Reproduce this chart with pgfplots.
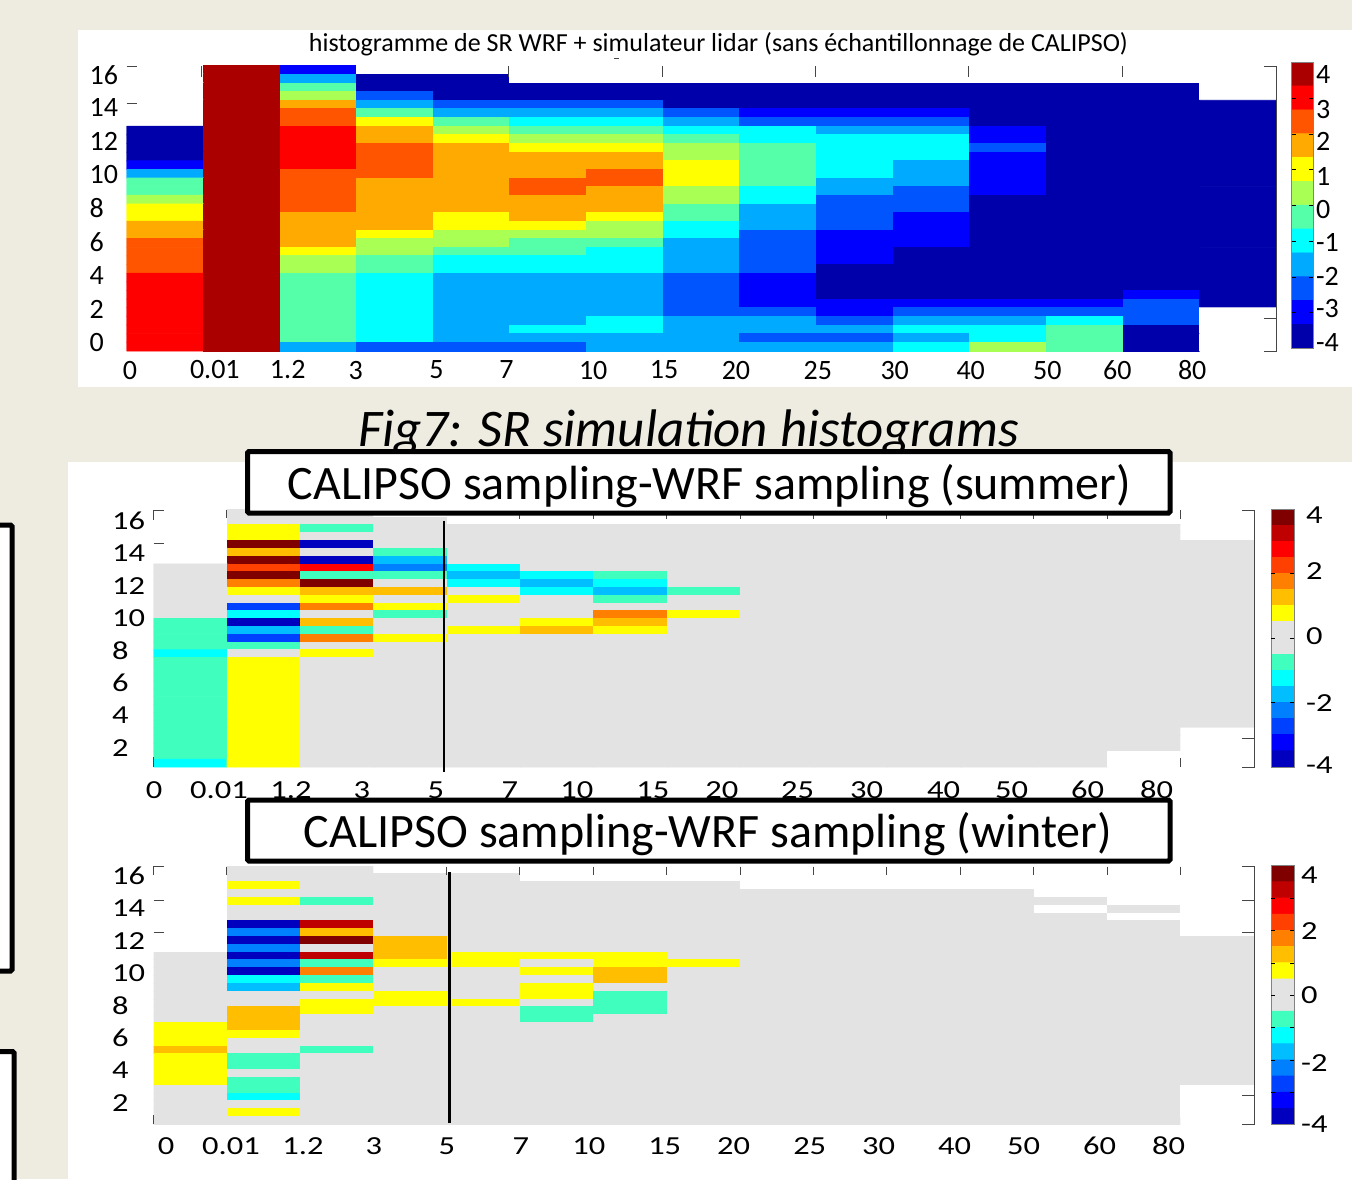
\documentclass[border=0pt]{standalone}
\usepackage{fontspec}
\setmainfont{Carlito}
\newfontfamily\widefont[FakeStretch=1.25]{Carlito}
\usepackage{pgfplots}
\usepackage{pgfplotstable}
\pgfplotsset{compat=1.18}

\definecolor{beige}{RGB}{238,236,225}
\definecolor{framegray}{RGB}{70,70,70}
\definecolor{bargray}{RGB}{130,130,130}

% index 0 is white (no data), then the colorbar from bottom to top
\pgfplotsset{
  colormap={srmap}{rgb255=(255,255,255) rgb255=(0,0,170) rgb255=(0,0,255) rgb255=(0,85,255)
    rgb255=(0,170,255) rgb255=(0,255,255) rgb255=(85,255,170) rgb255=(170,255,85)
    rgb255=(255,255,0) rgb255=(255,170,0) rgb255=(255,85,0) rgb255=(255,0,0) rgb255=(170,0,0)},
  colormap={diffmap}{rgb255=(255,255,255) rgb255=(0,0,190) rgb255=(0,0,255) rgb255=(0,64,255)
    rgb255=(0,128,255) rgb255=(0,190,255) rgb255=(0,255,255) rgb255=(64,255,190)
    rgb255=(227,227,227) rgb255=(255,255,0) rgb255=(255,190,0) rgb255=(255,128,0)
    rgb255=(255,64,0) rgb255=(255,0,0) rgb255=(190,0,0) rgb255=(128,0,0)},
  heat/.style={
    scale only axis, anchor=south west, y dir=reverse,
    xmin=-0.5, xmax=14.5, ymin=-0.5, ymax=32.5,
    axis line style={draw=none}, major tick length=0pt,
    colormap access=direct,
    xticklabels={0,0.01,1.2,3,5,7,10,15,20,25,30,40,50,60,80},
    y tick label style={anchor=west, inner sep=0pt},
    x tick label style={anchor=center, inner sep=0pt},
  },
  bar/.style={
    scale only axis, anchor=south west, y dir=reverse,
    xmin=-0.5, xmax=1.5, xtick=\empty,
    axis line style={draw=bargray, line width=1pt}, major tick length=0pt,
    colormap access=direct,
    yticklabel pos=right,
    y tick label style={anchor=west, inner sep=0pt},
    extra y tick labels={},
    extra y tick style={major tick length=4pt, tick style={black, line width=0.6pt}},
    axis on top,
  },
  % cells are stroked in their own colour so no seams show between them
  cells/.style={matrix plot*, mesh/cols=#1, point meta=explicit,
    shader=faceted, draw=mapped color, faceted color=mapped color, line width=0.9pt},
}

% rows run from the top of the axis down, 15 cells each
\pgfplotstableread[row sep=crcr]{c\\
0\\12\\2\\0\\0\\0\\0\\0\\0\\0\\0\\0\\0\\0\\0\\
0\\12\\4\\1\\1\\0\\0\\0\\0\\0\\0\\0\\0\\0\\0\\
0\\12\\6\\1\\1\\1\\1\\1\\1\\1\\1\\1\\1\\1\\0\\
0\\12\\7\\3\\1\\1\\1\\1\\1\\1\\1\\1\\1\\1\\0\\
0\\12\\9\\4\\3\\3\\3\\1\\1\\1\\1\\1\\1\\1\\1\\
0\\12\\10\\6\\4\\4\\4\\3\\2\\2\\2\\1\\1\\1\\1\\
0\\12\\10\\8\\6\\5\\5\\4\\3\\3\\3\\1\\1\\1\\1\\
1\\12\\11\\9\\7\\6\\6\\5\\5\\4\\4\\2\\1\\1\\1\\
1\\12\\11\\9\\8\\7\\7\\6\\5\\5\\5\\2\\1\\1\\1\\
1\\12\\11\\10\\9\\8\\8\\7\\6\\5\\5\\3\\1\\1\\1\\
1\\12\\11\\10\\9\\9\\9\\7\\6\\5\\5\\2\\1\\1\\1\\
2\\12\\11\\10\\9\\9\\9\\8\\6\\5\\4\\2\\1\\1\\1\\
4\\12\\10\\10\\9\\9\\10\\8\\6\\5\\4\\2\\1\\1\\1\\
6\\12\\10\\9\\9\\10\\10\\8\\6\\4\\4\\2\\1\\1\\1\\
6\\12\\10\\9\\9\\10\\9\\7\\5\\4\\3\\2\\1\\1\\1\\
7\\12\\10\\9\\9\\9\\9\\7\\5\\3\\3\\1\\1\\1\\1\\
8\\12\\10\\9\\9\\9\\9\\6\\4\\3\\3\\1\\1\\1\\1\\
8\\12\\9\\9\\8\\9\\8\\6\\4\\3\\2\\1\\1\\1\\1\\
9\\12\\9\\9\\8\\8\\7\\5\\4\\3\\2\\1\\1\\1\\1\\
9\\12\\9\\8\\7\\7\\7\\5\\3\\2\\2\\1\\1\\1\\1\\
10\\12\\9\\7\\7\\6\\6\\4\\3\\2\\2\\1\\1\\1\\1\\
10\\12\\8\\7\\6\\6\\5\\4\\3\\2\\1\\1\\1\\1\\1\\
10\\12\\7\\6\\5\\5\\5\\4\\3\\2\\1\\1\\1\\1\\1\\
10\\12\\7\\6\\5\\5\\5\\4\\3\\1\\1\\1\\1\\1\\1\\
11\\12\\6\\5\\4\\4\\4\\3\\2\\1\\1\\1\\1\\1\\1\\
11\\12\\6\\5\\4\\4\\4\\3\\2\\1\\1\\1\\1\\1\\1\\
11\\12\\6\\5\\4\\4\\4\\3\\2\\1\\1\\1\\1\\2\\1\\
11\\12\\6\\5\\4\\4\\4\\3\\2\\2\\2\\2\\2\\3\\1\\
11\\12\\6\\5\\4\\4\\4\\3\\3\\2\\3\\3\\3\\3\\0\\
11\\12\\6\\5\\4\\4\\5\\4\\4\\3\\4\\4\\5\\3\\0\\
11\\12\\6\\5\\4\\5\\5\\4\\4\\4\\5\\5\\6\\1\\0\\
11\\12\\6\\5\\4\\4\\4\\4\\3\\3\\4\\5\\6\\1\\0\\
11\\12\\4\\3\\3\\3\\4\\4\\4\\4\\5\\7\\6\\1\\0\\
}\srdata

\pgfplotstableread[row sep=crcr]{c\\
0\\8\\8\\0\\0\\0\\0\\0\\0\\0\\0\\0\\0\\0\\0\\
0\\8\\8\\8\\0\\0\\0\\0\\0\\0\\0\\0\\0\\0\\0\\
0\\9\\7\\8\\8\\8\\8\\8\\8\\8\\8\\8\\8\\8\\0\\
0\\9\\8\\8\\8\\8\\8\\8\\8\\8\\8\\8\\8\\8\\0\\
0\\15\\1\\8\\8\\8\\8\\8\\8\\8\\8\\8\\8\\8\\8\\
0\\10\\8\\7\\8\\8\\8\\8\\8\\8\\8\\8\\8\\8\\8\\
0\\15\\1\\5\\8\\8\\8\\8\\8\\8\\8\\8\\8\\8\\8\\
8\\12\\13\\4\\6\\8\\8\\8\\8\\8\\8\\8\\8\\8\\8\\
8\\15\\7\\7\\5\\6\\7\\8\\8\\8\\8\\8\\8\\8\\8\\
8\\11\\15\\8\\6\\5\\6\\8\\8\\8\\8\\8\\8\\8\\8\\
8\\9\\10\\10\\8\\6\\5\\7\\8\\8\\8\\8\\8\\8\\8\\
8\\8\\9\\8\\9\\8\\7\\8\\8\\8\\8\\8\\8\\8\\8\\
8\\3\\11\\9\\8\\8\\8\\8\\8\\8\\8\\8\\8\\8\\8\\
8\\6\\8\\7\\8\\8\\11\\9\\8\\8\\8\\8\\8\\8\\8\\
7\\1\\10\\8\\8\\9\\10\\8\\8\\8\\8\\8\\8\\8\\8\\
7\\5\\7\\8\\9\\10\\9\\8\\8\\8\\8\\8\\8\\8\\8\\
7\\3\\11\\9\\8\\8\\8\\8\\8\\8\\8\\8\\8\\8\\8\\
7\\7\\8\\8\\8\\8\\8\\8\\8\\8\\8\\8\\8\\8\\8\\
6\\8\\9\\8\\8\\8\\8\\8\\8\\8\\8\\8\\8\\8\\8\\
7\\9\\8\\8\\8\\8\\8\\8\\8\\8\\8\\8\\8\\8\\8\\
7\\9\\8\\8\\8\\8\\8\\8\\8\\8\\8\\8\\8\\8\\8\\
7\\9\\8\\8\\8\\8\\8\\8\\8\\8\\8\\8\\8\\8\\8\\
7\\9\\8\\8\\8\\8\\8\\8\\8\\8\\8\\8\\8\\8\\8\\
7\\9\\8\\8\\8\\8\\8\\8\\8\\8\\8\\8\\8\\8\\8\\
7\\9\\8\\8\\8\\8\\8\\8\\8\\8\\8\\8\\8\\8\\8\\
7\\9\\8\\8\\8\\8\\8\\8\\8\\8\\8\\8\\8\\8\\8\\
7\\9\\8\\8\\8\\8\\8\\8\\8\\8\\8\\8\\8\\8\\8\\
7\\9\\8\\8\\8\\8\\8\\8\\8\\8\\8\\8\\8\\8\\8\\
7\\9\\8\\8\\8\\8\\8\\8\\8\\8\\8\\8\\8\\8\\0\\
7\\9\\8\\8\\8\\8\\8\\8\\8\\8\\8\\8\\8\\8\\0\\
7\\9\\8\\8\\8\\8\\8\\8\\8\\8\\8\\8\\8\\8\\0\\
7\\9\\8\\8\\8\\8\\8\\8\\8\\8\\8\\8\\8\\0\\0\\
6\\9\\8\\8\\8\\8\\8\\8\\8\\8\\8\\8\\8\\0\\0\\
}\summerdata

\pgfplotstableread[row sep=crcr]{c\\
0\\8\\8\\0\\0\\0\\0\\0\\0\\0\\0\\0\\0\\0\\0\\
0\\8\\8\\8\\8\\0\\0\\0\\0\\0\\0\\0\\0\\0\\0\\
0\\9\\8\\8\\8\\8\\8\\8\\0\\0\\0\\0\\0\\0\\0\\
0\\8\\8\\8\\8\\8\\8\\8\\8\\8\\8\\8\\0\\0\\0\\
0\\9\\7\\8\\8\\8\\8\\8\\8\\8\\8\\8\\8\\0\\0\\
0\\8\\8\\8\\8\\8\\8\\8\\8\\8\\8\\8\\0\\8\\0\\
0\\8\\8\\8\\8\\8\\8\\8\\8\\8\\8\\8\\8\\0\\0\\
0\\1\\14\\8\\8\\8\\8\\8\\8\\8\\8\\8\\8\\8\\0\\
0\\4\\10\\8\\8\\8\\8\\8\\8\\8\\8\\8\\8\\8\\0\\
0\\1\\15\\10\\8\\8\\8\\8\\8\\8\\8\\8\\8\\8\\8\\
0\\4\\8\\10\\8\\8\\8\\8\\8\\8\\8\\8\\8\\8\\8\\
8\\1\\14\\10\\9\\9\\9\\8\\8\\8\\8\\8\\8\\8\\8\\
8\\4\\7\\9\\9\\8\\9\\9\\8\\8\\8\\8\\8\\8\\8\\
8\\1\\11\\8\\8\\9\\10\\8\\8\\8\\8\\8\\8\\8\\8\\
8\\6\\7\\8\\8\\8\\10\\8\\8\\8\\8\\8\\8\\8\\8\\
8\\5\\9\\8\\8\\9\\8\\8\\8\\8\\8\\8\\8\\8\\8\\
8\\8\\8\\9\\8\\9\\7\\8\\8\\8\\8\\8\\8\\8\\8\\
8\\8\\9\\9\\9\\8\\7\\8\\8\\8\\8\\8\\8\\8\\8\\
8\\10\\9\\8\\8\\7\\7\\8\\8\\8\\8\\8\\8\\8\\8\\
8\\10\\8\\8\\8\\7\\8\\8\\8\\8\\8\\8\\8\\8\\8\\
9\\10\\8\\8\\8\\8\\8\\8\\8\\8\\8\\8\\8\\8\\8\\
9\\9\\8\\8\\8\\8\\8\\8\\8\\8\\8\\8\\8\\8\\8\\
9\\8\\8\\8\\8\\8\\8\\8\\8\\8\\8\\8\\8\\8\\8\\
10\\8\\7\\8\\8\\8\\8\\8\\8\\8\\8\\8\\8\\8\\8\\
9\\7\\8\\8\\8\\8\\8\\8\\8\\8\\8\\8\\8\\8\\8\\
9\\7\\8\\8\\8\\8\\8\\8\\8\\8\\8\\8\\8\\8\\8\\
9\\8\\8\\8\\8\\8\\8\\8\\8\\8\\8\\8\\8\\8\\8\\
9\\7\\8\\8\\8\\8\\8\\8\\8\\8\\8\\8\\8\\8\\8\\
8\\7\\8\\8\\8\\8\\8\\8\\8\\8\\8\\8\\8\\8\\0\\
8\\6\\8\\8\\8\\8\\8\\8\\8\\8\\8\\8\\8\\8\\0\\
8\\8\\8\\8\\8\\8\\8\\8\\8\\8\\8\\8\\8\\8\\0\\
8\\9\\8\\8\\8\\8\\8\\8\\8\\8\\8\\8\\8\\8\\0\\
8\\8\\8\\8\\8\\8\\8\\8\\8\\8\\8\\8\\8\\8\\0\\
}\winterdata

% colorbars, two cells a row
\pgfplotstableread[row sep=crcr]{c\\
12\\12\\11\\11\\10\\10\\9\\9\\8\\8\\7\\7\\6\\6\\5\\5\\4\\4\\3\\3\\2\\2\\1\\1\\
}\srbar
\pgfplotstableread[row sep=crcr]{c\\
15\\15\\14\\14\\13\\13\\12\\12\\11\\11\\10\\10\\9\\9\\8\\8\\8\\8\\7\\7\\6\\6\\5\\5\\4\\4\\3\\3\\2\\2\\1\\1\\
}\diffbar

\begin{document}
\begin{tikzpicture}[x=1pt,y=-1pt]
\path[use as bounding box, fill=beige] (0,0) rectangle (1352,1179);
\fill[white] (78,30) rectangle (1352,387);
\node[anchor=base west, inner sep=0pt, font=\fontsize{52.9}{53}\selectfont\itshape] at (358,446) {Fig7: SR simulation histograms};
\fill[white] (68,462) rectangle (1352,1179);

% left frames cut by the page edge
\draw[black, line width=5pt, fill=white, rounded corners=1.5pt] (-6,525) rectangle (12,971);
\draw[black, line width=5pt, fill=white, rounded corners=1.5pt] (-6,1051.5) rectangle (14,1190);

% --- SR histogram
\begin{axis}[heat, colormap name=srmap, at={(126.7pt,-351pt)}, width=1149.6pt, height=285.3pt,
  xtick={-0.47,0.637,1.588,2.474,3.529,4.441,5.574,6.499,7.437,8.505,9.508,10.5,11.5,12.413,13.39},
  ytick={0.58,4.34,8.21,12.14,15.96,19.89,23.71,27.64,31.46},
  yticklabels={16,14,12,10,8,6,4,2,0},
  tick label style={font=\fontsize{28}{28}\selectfont},
  x tick label style={xshift=1pt, yshift=-19pt},
  y tick label style={xshift=-37.2pt},
  title={histogramme de SR WRF + simulateur lidar (sans échantillonnage de CALIPSO)},
  title style={at={(0.5,1)}, anchor=center, xshift=17pt, yshift=15pt, inner sep=0pt,
    font=\fontsize{26}{26}\selectfont},
]
\addplot[cells=15] table[x expr={mod(\coordindex,15)}, y expr={floor((\coordindex+0.5)/15)}, y index=0, meta=c] {\srdata};
\end{axis}
\begin{axis}[bar, colormap name=srmap, at={(1291.7pt,-348.3pt)}, width=21.6pt, height=286pt,
  ymin=-0.5, ymax=11.5,
  ytick={0.03,1.46,2.84,4.27,5.66,7.04,8.47,9.85,11.24},
  yticklabels={4,3,2,1,0,-1,-2,-3,-4},
  extra y ticks={1,2.5,4,5.5,7,8.5,10},
  tick label style={font=\fontsize{28}{28}\selectfont},
  y tick label style={xshift=2.5pt},
]
\addplot[cells=2] table[x expr={mod(\coordindex,2)}, y expr={floor((\coordindex+0.5)/2)}, y index=0, meta=c] {\srbar};
\end{axis}

% --- summer difference
\begin{axis}[heat, colormap name=diffmap, at={(153.7pt,-767pt)}, width=1100.6pt, height=257.7pt,
  xtick={-0.496,0.39,1.371,2.338,3.346,4.354,5.267,6.302,7.242,8.277,9.217,10.266,11.192,12.228,13.168},
  ytick={0.87,4.97,9.19,13.29,17.51,21.61,25.71,29.93},
  yticklabels={16,14,12,10,8,6,4,2},
  tick label style={font=\fontsize{26}{26}\widefont},
  x tick label style={yshift=-23pt},
  y tick label style={xshift=-41.7pt, yshift=-1pt},
]
\addplot[cells=15] table[x expr={mod(\coordindex,15)}, y expr={floor((\coordindex+0.5)/15)}, y index=0, meta=c] {\summerdata};
\end{axis}
\begin{axis}[bar, colormap name=diffmap, at={(1271pt,-767pt)}, width=23pt, height=258pt,
  ymin=-0.5, ymax=15.5,
  ytick={-0.19,3.28,7.31,11.47,15.31},
  yticklabels={4,2,0,-2,-4},
  extra y ticks={3.5,7.5,11.5},
  tick label style={font=\fontsize{26}{26}\widefont},
  y tick label style={xshift=12pt, yshift=-1pt},
]
\addplot[cells=2] table[x expr={mod(\coordindex,2)}, y expr={floor((\coordindex+0.5)/2)}, y index=0, meta=c] {\diffbar};
\end{axis}

% --- winter difference
\begin{axis}[heat, colormap name=diffmap, at={(153.7pt,-1124.3pt)}, width=1100.6pt, height=258.3pt,
  xtick={-0.332,0.553,1.534,2.501,3.495,4.504,5.43,6.465,7.405,8.441,9.381,10.416,11.356,12.391,13.332},
  ytick={0.65,4.74,8.95,13.04,17.25,21.34,25.43,29.64},
  yticklabels={16,14,12,10,8,6,4,2},
  tick label style={font=\fontsize{26}{26}\widefont},
  x tick label style={yshift=-21.7pt},
  y tick label style={xshift=-41.7pt, yshift=-1pt},
]
\addplot[cells=15] table[x expr={mod(\coordindex,15)}, y expr={floor((\coordindex+0.5)/15)}, y index=0, meta=c] {\winterdata};
\end{axis}
\begin{axis}[bar, colormap name=diffmap, at={(1271pt,-1124.7pt)}, width=23pt, height=259pt,
  ymin=-0.5, ymax=15.5,
  ytick={0.01,3.47,7.42,11.62,15.39},
  yticklabels={4,2,0,-2,-4},
  extra y ticks={1.5,3.5,5.5,7.5,9.5,11.5,13.5},
  tick label style={font=\fontsize{26}{26}\widefont},
  y tick label style={xshift=7pt, yshift=-1pt},
]
\addplot[cells=2] table[x expr={mod(\coordindex,2)}, y expr={floor((\coordindex+0.5)/2)}, y index=0, meta=c] {\diffbar};
\end{axis}

% leftovers of the original axes frames
\begin{scope}[framegray, line width=1pt]
  \draw (126.7,66.7) -- (137,66.7) (126.7,103) -- (137,103);
  \foreach \x in {201.3,508.7,662,815,968,1122} \draw (\x,66) -- (\x,77);
  \draw (1264,66.7) -- (1276.3,66.7) -- (1276.3,351) -- (1264,351) (1264,318) -- (1276.3,318);
  \draw (614,58) -- (619,58);
  % summer
  \draw (153.7,520) -- (153.7,510) -- (164,510) (153.7,543) -- (164,543) (153.7,757) -- (153.7,767);
  \draw (226,510) -- (226,518);
  \foreach \x in {519.8,593.2,666.6,740,813.4,886.8,960.2,1033.6,1107,1180.4} \draw (\x,510) -- (\x,518.5);
  \draw (1180.4,758) -- (1180.4,767);
  \draw (1242,510) -- (1254.3,510) -- (1254.3,767) -- (1242,767) (1242,738) -- (1254.3,738);
  % winter
  \draw (153.7,875) -- (153.7,866.5) -- (164,866.5) (153.7,900) -- (164,900) (153.7,932) -- (164,932) (153.7,1115) -- (153.7,1124);
  \foreach \x in {226,446.4,519.8,593.2,666.6,740,813.4,886.8,960.2,1033.6,1107,1180.4} \draw (\x,866.5) -- (\x,875);
  \draw (1242,866.5) -- (1254.3,866.5) -- (1254.3,1124) -- (1242,1124) (1242,900) -- (1254.3,900) (1242,932) -- (1254.3,932) (1242,1095) -- (1254.3,1095);
\end{scope}

% hand drawn marks over the two difference panels
\draw[black, line width=2.5pt] (444,520.7) -- (444,771.7);
\draw[black, line width=2.5pt] (449.7,872) -- (449.7,1123);

% title boxes
\draw[black, line width=5pt, rounded corners=1.5pt, fill=white] (247.5,451.5) rectangle (1170,513);
\node[font=\fontsize{48}{48}\selectfont, inner sep=0pt] at (709.5,486.5) {CALIPSO sampling-WRF sampling (summer)};
\draw[black, line width=5pt, rounded corners=1.5pt, fill=white] (247.5,800) rectangle (1170,861);
\node[font=\fontsize{48}{48}\selectfont, inner sep=0pt] at (708,834.5) {CALIPSO sampling-WRF sampling (winter)};
\end{tikzpicture}
\end{document}
